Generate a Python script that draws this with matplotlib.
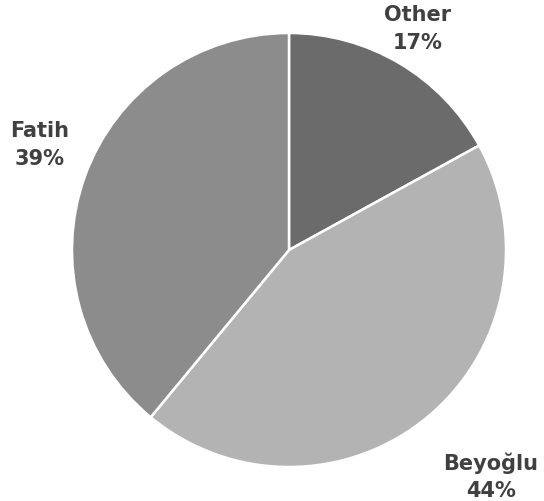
import matplotlib.pyplot as plt

# slice data, clockwise from 12 o'clock
labels = ['Other', 'Beyoğlu', 'Fatih']
shares = [17, 44, 39]
colors = ['#6b6b6b', '#b3b3b3', '#8c8c8c']

# where the labels sit (pixels, y from top)
label_pos = [(418, 29), (491, 477), (40, 145)]

W, H = 544, 501
fig = plt.figure(figsize=(W / 100, H / 100), dpi=100)
ax = fig.add_axes([0, 0, 1, 1])

ax.pie(shares, colors=colors, startangle=90, counterclock=False,
       center=(289, H - 250), radius=217,
       wedgeprops=dict(edgecolor='white', linewidth=1.8))

for lab, pct, (x, y) in zip(labels, shares, label_pos):
    ax.text(x, H - y, f'{lab}\n{pct}%', ha='center', va='center',
            fontsize=15, fontweight='bold', color='#404040',
            linespacing=1.45)

ax.set_xlim(0, W)
ax.set_ylim(0, H)
ax.set_aspect('equal')
ax.axis('off')

plt.savefig('out.png', dpi=100)
